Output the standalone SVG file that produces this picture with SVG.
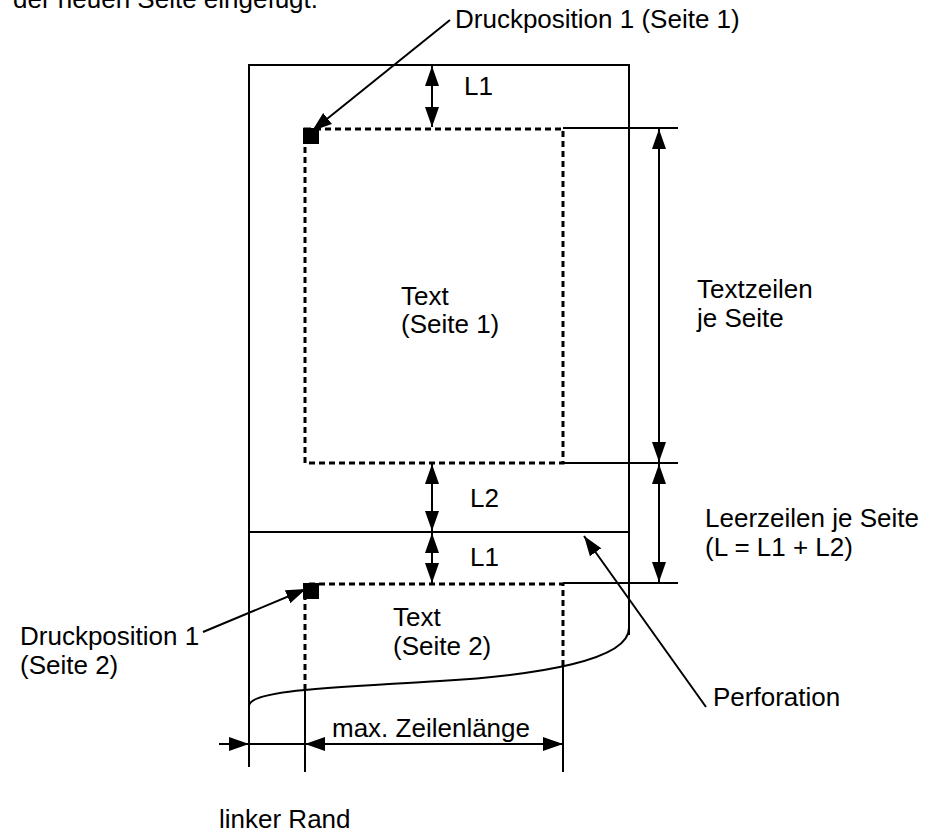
<svg xmlns="http://www.w3.org/2000/svg" width="946" height="835" viewBox="0 0 946 835">
<style>
.t{font-family:"Liberation Sans",Arial,sans-serif;font-size:26px;fill:#000}
.s{stroke:#000;stroke-width:2;fill:none}
.d{stroke:#000;stroke-width:3;fill:none;stroke-dasharray:6 4}
.a{stroke:#000;stroke-width:2;fill:none;marker-end:url(#ah)}
.aa{stroke:#000;stroke-width:2;fill:none;marker-start:url(#ah);marker-end:url(#ah)}
</style>
<defs>
<marker id="ah" markerUnits="userSpaceOnUse" markerWidth="22" markerHeight="16" refX="20" refY="7" orient="auto-start-reverse" viewBox="0 0 22 14">
<path d="M0,0 L20,7 L0,14 z" fill="#000"/>
</marker>
</defs>
<rect width="946" height="835" fill="#fff"/>
<text class="t" x="13" y="8">der neuen Seite eingefügt.</text>
<g id="page">
<path class="s" d="M249,767 L249,65 L629,65 L629,635"/>
<path class="s" d="M249,706 C249,690 330,688 440,681 C540,675 629,660 629,628"/>
<line id="perforation-line" class="s" x1="249" y1="532" x2="629" y2="532"/>
</g>
<g id="textarea1">
<path class="d" d="M305,129 L563,129 L563,463 L305,463 Z"/>
<rect x="303" y="128" width="16" height="16" fill="#000"/>
<text class="t" x="401" y="305">Text</text>
<text class="t" x="401" y="333">(Seite 1)</text>
</g>
<g id="textarea2">
<path class="d" d="M305,690 L305,584 L563,584 L563,668"/>
<rect x="303" y="583" width="16" height="16" fill="#000"/>
<text class="t" x="393" y="626">Text</text>
<text class="t" x="393" y="655">(Seite 2)</text>
</g>
<g id="dimensions">
<line class="s" x1="563" y1="128" x2="678" y2="128"/>
<line class="s" x1="563" y1="463" x2="678" y2="463"/>
<line class="s" x1="563" y1="583" x2="678" y2="583"/>
<line class="aa" x1="659" y1="129" x2="659" y2="462"/>
<line class="aa" x1="659" y1="464" x2="659" y2="582"/>
<line class="aa" x1="432" y1="66" x2="432" y2="127"/>
<line class="aa" x1="432" y1="464" x2="432" y2="531"/>
<line class="aa" x1="432" y1="533" x2="432" y2="583"/>
<line class="s" x1="305" y1="688" x2="305" y2="772"/>
<line class="s" x1="563" y1="667" x2="563" y2="772"/>
<line class="a" x1="219" y1="744" x2="249" y2="744"/>
<line class="s" x1="249" y1="744" x2="305" y2="744"/>
<line class="aa" x1="305" y1="744" x2="563" y2="744"/>
</g>
<g id="connectors">
<line class="a" x1="450" y1="20" x2="312" y2="131"/>
<line class="a" x1="203" y1="632" x2="306" y2="589"/>
<line class="a" x1="706" y1="707" x2="584" y2="536"/>
</g>
<g id="labels">
<text class="t" x="455" y="28">Druckposition 1 (Seite 1)</text>
<text class="t" x="464" y="95">L1</text>
<text class="t" x="470" y="507">L2</text>
<text class="t" x="470" y="566">L1</text>
<text class="t" x="697" y="298">Textzeilen</text>
<text class="t" x="697" y="327">je Seite</text>
<text class="t" x="705" y="527">Leerzeilen je Seite</text>
<text class="t" x="705" y="556">(L = L1 + L2)</text>
<text class="t" x="20" y="645">Druckposition 1</text>
<text class="t" x="20" y="674">(Seite 2)</text>
<text class="t" x="713" y="706">Perforation</text>
<text class="t" x="332" y="737">max. Zeilenlänge</text>
<text class="t" x="219" y="828">linker Rand</text>
</g>
</svg>
